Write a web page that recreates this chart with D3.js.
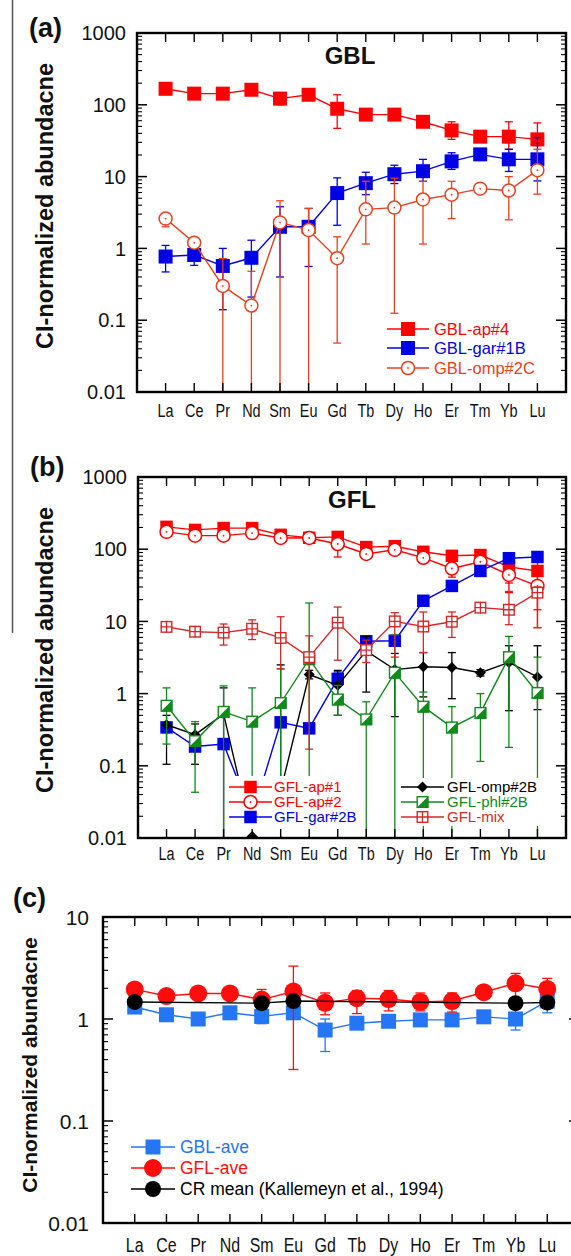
<!DOCTYPE html>
<html><head><meta charset="utf-8">
<script src="https://cdn.jsdelivr.net/npm/d3@7"></script>
<style>
body{margin:0;background:#fff}
svg{display:block}
text{font-family:"Liberation Sans",Arial,Helvetica,sans-serif}
</style>
</head><body>
<svg id="fig" width="571" height="1256"></svg>
<script>
// Rare earth elements along the x axis
const ree = ["La","Ce","Pr","Nd","Sm","Eu","Gd","Tb","Dy","Ho","Er","Tm","Yb","Lu"];
const yTickValues = [0.01, 0.1, 1, 10, 100, 1000];
const yTickLabels = ["0.01", "0.1", "1", "10", "100", "1000"];

// (a) GBL minerals: CI-normalized values with error ranges
const gblAp4     = [167,143,143,162,122,138,88,73,73,58,44,36,36,33];
const gblAp4Lo   = [152,131,131,148,100,125,47,66,66,52,33,32,24,27];
const gblAp4Hi   = [188,157,157,178,148,152,138,81,81,66,58,41,58,56];
const gblGar1B   = [0.77,0.81,0.57,0.74,2.0,2.0,5.9,8.1,10.8,11.9,16.3,20.4,17.4,17.4];
const gblGar1BLo = [0.47,0.58,0.14,0.21,0.40,0.56,2.1,5.6,8.0,8.6,12.6,18.5,11.8,8.7];
const gblGar1BHi = [1.1,0.97,1.0,1.3,3.8,3.6,9.6,11.5,14.4,17.4,21.5,22.5,24,35];
const gblOmp2C   = [2.6,1.2,0.30,0.16,2.3,1.8,0.73,3.5,3.7,4.8,5.6,6.8,6.4,12.3];
const gblOmp2CLo = [2.0,1.05,0.001,0.001,0.001,0.001,0.048,1.15,0.125,1.15,2.6,6.2,2.5,5.7];
const gblOmp2CHi = [3.1,1.35,0.72,0.48,4.6,3.6,1.45,8.6,9.5,8.6,8.6,7.5,10,24];

// (b) GFL minerals
const gflAp1     = [204,185,196,196,158,144,148,107,110,92,81,83,57,50];
const gflAp1Lo   = [185,168,178,178,140,130,120,97,100,84,72,76,34,14.5];
const gflAp1Hi   = [225,202,215,215,178,158,170,117,120,100,90,90,80,75];
const gflAp2     = [174,154,154,167,143,143,118,86,98,76,54,67,44,31];
const gflAp2Lo   = [160,140,140,152,125,130,78,78,88,68,41,60,25,8.2];
const gflAp2Hi   = [190,168,168,182,160,158,168,95,108,84,67,75,63,54];
const gflGar2B   = [0.34,0.185,0.20,0.02,0.40,0.33,1.6,5.3,5.4,19.3,31,50,75,78];
const gflGar2BLo = [0.30,0.165,0.18,null,0.36,0.30,1.3,4.9,5.0,18,29,46,68,70];
const gflGar2BHi = [0.38,0.205,0.22,null,0.44,0.36,2.0,5.8,5.9,21,34,55,83,86];
const gflOmp2B   = [0.37,0.27,0.52,0.0105,0.045,1.84,1.3,3.9,2.15,2.35,2.3,1.95,2.7,1.7];
const gflOmp2BLo = [0.105,0.105,0.001,null,0.001,1.6,0.5,1.05,0.48,0.9,0.85,1.75,0.58,0.6];
const gflOmp2BHi = [0.5,0.38,1.2,null,2.5,2.1,2.1,6.2,3.6,3.7,3.7,2.15,4.6,4.6];
const gflPhl2B   = [0.68,0.22,0.56,0.41,0.74,3.0,0.83,0.44,1.95,0.66,0.34,0.54,3.2,1.02];
const gflPhl2BLo = [0.2,0.043,0.001,0.001,0.001,0.001,0.5,0.001,0.001,0.001,0.001,0.115,0.18,0.001];
const gflPhl2BHi = [1.2,0.41,1.28,1.2,2.2,18,1.3,0.77,6.5,1.05,0.66,1.0,6.2,3.2];
const gflMix     = [8.4,7.2,7.0,7.9,5.9,3.2,9.6,4.0,10,8.5,9.9,15.5,14.5,25];
const gflMixLo   = [7.3,6.2,4.7,5.6,2.2,0.17,2.9,2.7,3.2,3.7,6.0,14,9.0,8.2];
const gflMixHi   = [9.8,8.3,9.2,10.5,11.6,6.3,15.8,5.5,13.2,13.5,13.5,17,26,30];

// (c) averages and CR chondrite mean
const gblAve     = [1.31,1.1,1.0,1.15,1.06,1.15,0.78,0.91,0.95,0.98,0.98,1.05,1.0,1.5];
const gblAveLo   = [1.2,1.02,0.93,1.07,0.9,1.06,0.48,0.82,0.85,0.88,0.88,1.0,0.78,1.15];
const gblAveHi   = [1.43,1.18,1.08,1.23,1.2,1.25,1.0,1.0,1.05,1.08,1.08,1.12,1.25,1.9];
const gflAve     = [1.95,1.68,1.78,1.78,1.55,1.86,1.44,1.6,1.57,1.47,1.5,1.83,2.24,1.97];
const gflAveLo   = [1.8,1.55,1.65,1.65,1.25,0.32,1.1,1.13,1.2,1.2,1.17,1.7,1.6,1.5];
const gflAveHi   = [2.1,1.8,1.9,1.9,1.95,3.3,1.8,1.9,1.9,1.8,1.8,1.95,2.8,2.5];
const crMean     = [1.47,null,null,null,1.43,1.5,null,null,null,null,null,null,1.43,1.45];

const svg = d3.select("#fig");
let clipId = 0;

// ---- marker shapes ----
function drawMarker(g, kind, cx, cy, s, color) {
  const h = s / 2;
  if (kind === "square") {
    g.append("rect").attr("x", cx - h).attr("y", cy - h).attr("width", s).attr("height", s).attr("fill", color);
  } else if (kind === "openCircle") {
    g.append("circle").attr("cx", cx).attr("cy", cy).attr("r", h).attr("fill", "#fff").attr("stroke", color).attr("stroke-width", 1.5);
    g.append("circle").attr("cx", cx).attr("cy", cy).attr("r", 0.9).attr("fill", color);
  } else if (kind === "circle") {
    g.append("circle").attr("cx", cx).attr("cy", cy).attr("r", h).attr("fill", color);
  } else if (kind === "diamond") {
    g.append("path").attr("d", `M${cx},${cy - h}L${cx + h},${cy}L${cx},${cy + h}L${cx - h},${cy}Z`).attr("fill", color);
  } else if (kind === "halfSquare") {
    g.append("rect").attr("x", cx - h + 0.7).attr("y", cy - h + 0.7).attr("width", s - 1.4).attr("height", s - 1.4)
      .attr("fill", "#fff").attr("stroke", color).attr("stroke-width", 1.4);
    g.append("path").attr("d", `M${cx + h},${cy - h}L${cx + h},${cy + h}L${cx - h},${cy + h}Z`).attr("fill", color);
  } else if (kind === "crossSquare") {
    g.append("rect").attr("x", cx - h + 0.7).attr("y", cy - h + 0.7).attr("width", s - 1.4).attr("height", s - 1.4)
      .attr("fill", "#fff").attr("stroke", color).attr("stroke-width", 1.4);
    g.append("path").attr("d", `M${cx},${cy - h}V${cy + h}M${cx - h},${cy}H${cx + h}`).attr("stroke", color).attr("stroke-width", 1.3);
  }
}

// ---- one log-scaled REE pattern panel ----
function drawPanel(p) {
  const x = d3.scalePoint().domain(ree).range([p.left, p.right]).padding(1);
  const y = d3.scaleLog().domain(p.yDomain).range([p.bottom, p.top]);
  const g = svg.append("g");
  const id = "clip" + (clipId++);
  svg.append("defs").append("clipPath").attr("id", id).append("rect")
    .attr("x", p.left).attr("y", p.top).attr("width", p.right - p.left).attr("height", p.bottom - p.top);

  const plot = g.append("g").attr("clip-path", `url(#${id})`);
  const [dMin, dMax] = p.yDomain;

  const markerLayers = [];
  p.series.forEach(s => {
    const sg = plot.append("g");
    const pts = ree.map((r, i) => ({ r, v: s.v[i], lo: s.lo ? s.lo[i] : null, hi: s.hi ? s.hi[i] : null }))
      .filter(d => d.v != null);
    // connecting line
    sg.append("path").datum(pts)
      .attr("d", d3.line().x(d => x(d.r)).y(d => y(d.v)))
      .attr("fill", "none").attr("stroke", s.color).attr("stroke-width", s.lw || 1.4);
    // error bars
    pts.filter(d => d.lo != null && d.hi != null).forEach(d => {
      const cx = x(d.r);
      const y1 = y(Math.max(d.lo, dMin / 10)), y2 = y(d.hi);
      sg.append("line").attr("x1", cx).attr("x2", cx).attr("y1", y1).attr("y2", y2)
        .attr("stroke", s.color).attr("stroke-width", 1.3);
      const cw = p.cap;
      [d.lo, d.hi].forEach(e => {
        if (e >= dMin) sg.append("line").attr("x1", cx - cw).attr("x2", cx + cw).attr("y1", y(e)).attr("y2", y(e))
          .attr("stroke", s.color).attr("stroke-width", 1.3);
      });
    });
    const mg = sg.append("g");
    pts.forEach(d => drawMarker(mg, s.marker, x(d.r), y(d.v), s.size, s.color));
    markerLayers.push({ s, pts });
  });

  // legend (with white backing where it sits over data)
  const lg = g.append("g");
  (p.legendBoxes || []).forEach(b => {
    lg.append("rect").attr("x", b[0]).attr("y", b[1]).attr("width", b[2]).attr("height", b[3]).attr("fill", "#fff");
  });
  // markers that sit on the bottom axis stay visible in front of the legend backing
  if (p.legendBoxes) {
    const front = lg.append("g").attr("clip-path", `url(#${id})`);
    markerLayers.forEach(m => m.pts.filter(d => d.v <= dMin * 1.2)
      .forEach(d => drawMarker(front, m.s.marker, x(d.r), y(d.v), m.s.size, m.s.color)));
  }
  p.legend.forEach(e => {
    const s = e.s;
    lg.append("line").attr("x1", e.x1).attr("x2", e.x2).attr("y1", e.y).attr("y2", e.y)
      .attr("stroke", s.color).attr("stroke-width", 1.4);
    drawMarker(lg, s.marker, (e.x1 + e.x2) / 2, e.y, s.size, s.color);
    lg.append("text").attr("x", e.tx).attr("y", e.y).attr("dy", "0.36em").attr("font-size", p.legendFont)
      .attr("fill", s.textColor || s.color).text(s.name);
  });

  // frame and ticks
  const ax = g.append("g").attr("stroke", "#000").attr("fill", "none");
  ax.append("rect").attr("x", p.left).attr("y", p.top).attr("width", p.right - p.left).attr("height", p.bottom - p.top)
    .attr("stroke-width", 2.4);
  ree.forEach(r => {
    const cx = x(r);
    ax.append("line").attr("x1", cx).attr("x2", cx).attr("y1", p.top).attr("y2", p.top + 9).attr("stroke-width", 1.4);
    ax.append("line").attr("x1", cx).attr("x2", cx).attr("y1", p.bottom).attr("y2", p.bottom - 9).attr("stroke-width", 1.4);
  });
  y.ticks().forEach(t => {
    const major = yTickValues.includes(t);
    const len = major ? 10 : 5;
    const yy = y(t);
    ax.append("line").attr("x1", p.left).attr("x2", p.left + len).attr("y1", yy).attr("y2", yy).attr("stroke-width", major ? 1.5 : 1.1);
    ax.append("line").attr("x1", p.right).attr("x2", p.right - len).attr("y1", yy).attr("y2", yy).attr("stroke-width", major ? 1.5 : 1.1);
  });

  // y tick labels
  yTickValues.forEach((t, i) => {
    if (t < dMin || t > dMax) return;
    g.append("text").attr("x", p.left - p.yLabelGap).attr("y", y(t)).attr("dy", "0.36em")
      .attr("text-anchor", "end").attr("font-size", p.yFont).attr("fill", "#111").text(yTickLabels[i]);
  });
  // x tick labels (narrow lettering)
  ree.forEach(r => {
    g.append("text").attr("transform", `translate(${x(r)},${p.xLabelY}) scale(0.76,1)`)
      .attr("text-anchor", "middle").attr("font-size", p.xFont).attr("fill", "#111").text(r);
  });
  // axis title
  g.append("text").attr("transform", `translate(${p.titleX},${p.titleY}) rotate(-90)`)
    .attr("text-anchor", "middle").attr("font-size", p.titleFont).attr("font-weight", "bold").attr("fill", "#111")
    .text("CI-normalized abundacne");
  // panel letter
  g.append("text").attr("x", p.letterX).attr("y", p.letterY).attr("font-size", 27).attr("font-weight", "bold")
    .attr("fill", "#111").text(p.letter);
  if (p.heading) {
    g.append("text").attr("x", p.heading.x).attr("y", p.heading.y).attr("text-anchor", "middle")
      .attr("font-size", 24).attr("font-weight", "bold").attr("fill", "#111").text(p.heading.text);
  }
  return { x, y };
}

const red = "#ff0000", blue = "#0000e6", orange = "#e8401c", green = "#118a1c", mixRed = "#d42828";

// (a) GBL
const sA = [
  { name: "GBL-ap#4", v: gblAp4, lo: gblAp4Lo, hi: gblAp4Hi, color: red, marker: "square", size: 14 },
  { name: "GBL-gar#1B", v: gblGar1B, lo: gblGar1BLo, hi: gblGar1BHi, color: blue, marker: "square", size: 14 },
  { name: "GBL-omp#2C", v: gblOmp2C, lo: gblOmp2CLo, hi: gblOmp2CHi, color: orange, marker: "openCircle", size: 13 }
];
drawPanel({
  left: 137, right: 566, top: 33, bottom: 392, yDomain: [0.01, 1000], cap: 4,
  series: sA, yFont: 20, yLabelGap: 11, xFont: 19, xLabelY: 417,
  titleX: 53, titleY: 206, titleFont: 23.5, letter: "(a)", letterX: 29, letterY: 37,
  heading: { text: "GBL", x: 350, y: 64 },
  legendFont: 16.5,
  legend: [
    { s: sA[0], x1: 387, x2: 429, y: 329, tx: 434 },
    { s: sA[1], x1: 387, x2: 429, y: 348, tx: 434 },
    { s: sA[2], x1: 387, x2: 429, y: 368, tx: 434 }
  ]
});

// (b) GFL
const sB = [
  { name: "GFL-ap#1", v: gflAp1, lo: gflAp1Lo, hi: gflAp1Hi, color: red, marker: "square", size: 12.5 },
  { name: "GFL-ap#2", v: gflAp2, lo: gflAp2Lo, hi: gflAp2Hi, color: red, marker: "openCircle", size: 13 },
  { name: "GFL-gar#2B", v: gflGar2B, lo: gflGar2BLo, hi: gflGar2BHi, color: blue, marker: "square", size: 12.5 },
  { name: "GFL-omp#2B", v: gflOmp2B, lo: gflOmp2BLo, hi: gflOmp2BHi, color: "#000", marker: "diamond", size: 11 },
  { name: "GFL-phl#2B", v: gflPhl2B, lo: gflPhl2BLo, hi: gflPhl2BHi, color: green, marker: "halfSquare", size: 12 },
  { name: "GFL-mix", v: gflMix, lo: gflMixLo, hi: gflMixHi, color: mixRed, marker: "crossSquare", size: 12 }
];
drawPanel({
  left: 138, right: 566, top: 477, bottom: 838, yDomain: [0.01, 1000], cap: 4,
  series: sB, yFont: 20, yLabelGap: 11, xFont: 19, xLabelY: 860,
  titleX: 53, titleY: 650, titleFont: 23.5, letter: "(b)", letterX: 30, letterY: 476,
  heading: { text: "GFL", x: 352, y: 508 },
  legendFont: 15,
  legendBoxes: [[225, 776, 122, 60], [398, 778, 155, 48]],
  legend: [
    { s: sB[0], x1: 229, x2: 272, y: 787, tx: 274 },
    { s: sB[1], x1: 229, x2: 272, y: 802, tx: 274 },
    { s: sB[2], x1: 229, x2: 272, y: 817, tx: 274 },
    { s: sB[3], x1: 401, x2: 444, y: 787, tx: 447 },
    { s: sB[4], x1: 401, x2: 444, y: 802, tx: 447 },
    { s: sB[5], x1: 401, x2: 444, y: 817, tx: 447 }
  ]
});

// (c) averages
const sC = [
  { name: "GBL-ave", v: gblAve, lo: gblAveLo, hi: gblAveHi, color: "#2476f5", marker: "square", size: 15 },
  { name: "GFL-ave", v: gflAve, lo: gflAveLo, hi: gflAveHi, color: "#ff0d0d", marker: "circle", size: 18 },
  { name: "CR mean (Kallemeyn et al., 1994)", v: crMean, color: "#000", marker: "circle", size: 16 }
];
drawPanel({
  left: 103, right: 579, top: 917, bottom: 1223, yDomain: [0.01, 10], cap: 5,
  series: sC, yFont: 21, yLabelGap: 14, xFont: 21, xLabelY: 1252,
  titleX: 37, titleY: 1065, titleFont: 21, letter: "(c)", letterX: 13, letterY: 907,
  legendFont: 17.5,
  legend: [
    { s: sC[0], x1: 131, x2: 175, y: 1147, tx: 180 },
    { s: sC[1], x1: 131, x2: 175, y: 1168, tx: 180 },
    { s: sC[2], x1: 131, x2: 175, y: 1189, tx: 180 }
  ]
});

// separator rule on the left of panels (a) and (b)
svg.append("line").attr("x1", 12.5).attr("x2", 12.5).attr("y1", 0).attr("y2", 633)
  .attr("stroke", "#555").attr("stroke-width", 1.5);
</script>
</body></html>
